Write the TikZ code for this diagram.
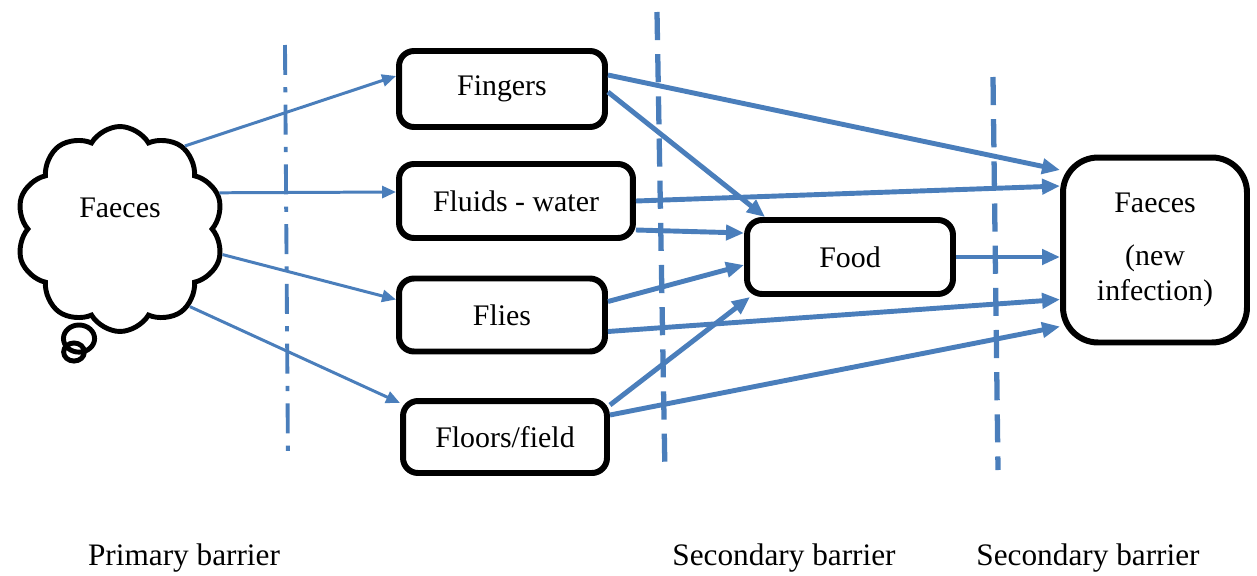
\documentclass[tikz,border=0pt]{standalone}
\usepackage{fontspec}
\setmainfont{Liberation Serif}
\usepackage{xcolor}
\usetikzlibrary{arrows.meta,shapes.symbols,shapes.callouts}
\definecolor{lineblue}{HTML}{4A7EBB}
\begin{document}
\begin{tikzpicture}[x=0.02cm, y=-0.02cm,
  font=\fontsize{17}{20}\selectfont,
  box/.style={draw=black, line width=3.4pt, rounded corners=0.3cm, fill=white, align=center},
  cloudbox/.style={cloud callout, draw=black, line width=2.8pt, cloud puffs=10, cloud puff arc=120,
    aspect=1, minimum width=4.15cm, minimum height=4.1cm, callout absolute pointer={(74,352)}},
  thin/.style={draw=lineblue, line width=1.7pt, -{Triangle[length=0.28cm, width=0.24cm]}},
  thick/.style={draw=lineblue, line width=2.8pt, -{Triangle[length=0.36cm, width=0.3cm]}},
  barrier/.style={draw=lineblue, line width=3pt},
  caption/.style={font=\fontsize{17.8}{20}\selectfont}]
\useasboundingbox (0,0) rectangle (1257,575) ;
% barrier lines
\coordinate (A) at (285,45) ;
\coordinate (B) at (288,462) ;
\coordinate (C) at (657,12) ;
\coordinate (D) at (665,475) ;
\coordinate (E) at (993,77) ;
\coordinate (F) at (998,470) ;
\draw[barrier, line width=2.2pt, dash pattern=on 17pt off 7pt on 3pt off 7pt] (A) -- (B) ;
\draw[barrier, dash pattern=on 16pt off 8pt] (C) -- (D) ;
\draw[barrier, dash pattern=on 16pt off 8pt] (E) -- (F) ;
% nodes
\node[cloudbox] (faeces) at (120,229) {\smash{\raisebox{0.24cm}{Faeces}}} ;
\node[box, minimum width=4.12cm, minimum height=1.52cm] (fingers) at (502,89) {Fingers} ;
\node[box, minimum width=4.68cm, minimum height=1.48cm] (fluids) at (516,201) {Fluids - water} ;
\node[box, minimum width=4.12cm, minimum height=1.46cm] (flies) at (502,315) {Flies} ;
\node[box, minimum width=4.08cm, minimum height=1.44cm] (floors) at (505,437) {Floors/field} ;
\node[box, minimum width=4.12cm, minimum height=1.48cm] (food) at (850,257) {Food} ;
\node[box, rounded corners=0.7cm, minimum width=3.68cm, minimum height=3.7cm] (newfaeces) at (1155,250)
  {Faeces\\[0.6em](new\\infection)} ;
% arrows
\draw[thin] (faeces.52) -- ([yshift=0.26cm]fingers.west) ;
\draw[thin] (faeces.20) -- ([yshift=0.18cm]fluids.west) ;
\draw[thin] (faeces.-14) -- ([yshift=0.31cm]flies.west) ;
\draw[thin] (faeces.-48) -- ([yshift=0.68cm]floors.west) ;
\draw[thick] ([yshift=0.28cm]fingers.east) -- ([yshift=1.6cm]newfaeces.west) ;
\draw[thick] ([yshift=-0.06cm]fingers.east) -- ([xshift=0.42cm]food.north west) ;
\draw[thick] (fluids.east) -- ([yshift=1.28cm]newfaeces.west) ;
\draw[thick] ([yshift=-0.58cm]fluids.east) -- ([yshift=0.48cm]food.west) ;
\draw[thick] ([yshift=0.27cm]flies.east) -- ([yshift=-0.16cm]food.west) ;
\draw[thick] ([yshift=-0.33cm]flies.east) -- ([yshift=-0.99cm]newfaeces.west) ;
\draw[thick] ([yshift=0.64cm]floors.east) -- ([xshift=0.12cm]food.south west) ;
\draw[thick] ([yshift=0.44cm]floors.east) -- ([yshift=-1.53cm]newfaeces.west) ;
\draw[thick] (food.east) -- (food.east -| newfaeces.west) ;
% barrier labels
\node[caption] (primary) at (184,558) {Primary barrier} ;
\node[caption] (second1) at (784,558) {Secondary barrier} ;
\node[caption] (second2) at (1088,558) {Secondary barrier} ;
\end{tikzpicture}
\end{document}
